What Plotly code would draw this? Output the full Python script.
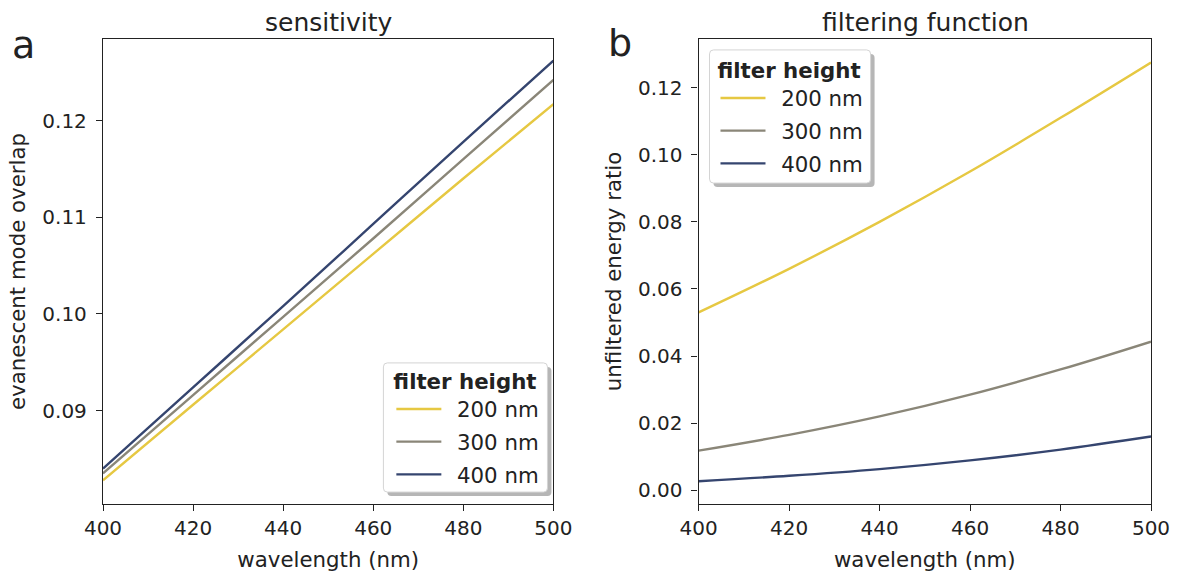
import plotly.graph_objects as go

wavelength = [400, 420, 440, 460, 480, 500]
heights = ["200 nm", "300 nm", "400 nm"]
colors = ["#e6c842", "#8a8678", "#35456f"]

# panel a: evanescent mode overlap
overlap_200 = [0.0828, 0.0906, 0.0984, 0.1062, 0.1140, 0.1217]
overlap_300 = [0.0835, 0.0916, 0.0997, 0.1078, 0.1160, 0.1242]
overlap_400 = [0.0840, 0.0924, 0.1008, 0.1093, 0.1178, 0.1262]

# panel b: unfiltered energy ratio
ratio_200 = [0.0530, 0.0660, 0.0800, 0.0950, 0.1110, 0.1275]
ratio_300 = [0.0118, 0.0165, 0.0220, 0.0285, 0.0360, 0.0443]
ratio_400 = [0.0027, 0.0043, 0.0063, 0.0089, 0.0121, 0.0160]

FONT = "DejaVu Sans"
TICK = 20
LAB = 21.3

L, R, T, B = 103, 1157, 39, 507  # outer plotting box in pixels


def px_x(p):
    return (p - L) / (R - L)


def px_y(p):
    return (B - p) / (B - T)


def rounded_box(x0, y0, x1, y1, r=4):
    """SVG path (paper coords) for a rounded rectangle given pixel corners."""
    X0, X1 = px_x(x0), px_x(x1)
    Y0, Y1 = px_y(y0), px_y(y1)  # Y0 top, Y1 bottom
    rx, ry = r / (R - L), r / (B - T)
    return (f"M {X0 + rx},{Y0} L {X1 - rx},{Y0} Q {X1},{Y0} {X1},{Y0 - ry} "
            f"L {X1},{Y1 + ry} Q {X1},{Y1} {X1 - rx},{Y1} "
            f"L {X0 + rx},{Y1} Q {X0},{Y1} {X0},{Y1 + ry} "
            f"L {X0},{Y0 - ry} Q {X0},{Y0} {X0 + rx},{Y0} Z")


fig = go.Figure()

for i, (name, ys, c) in enumerate(zip(heights, [overlap_200, overlap_300, overlap_400], colors)):
    fig.add_trace(go.Scatter(x=wavelength, y=ys, mode="lines", name="\u2002" + name,
                             legendgroup=f"a{i}",
                             line=dict(color=c, width=2.4, shape="spline"),
                             xaxis="x", yaxis="y", legend="legend"))
for i, (name, ys, c) in enumerate(zip(heights, [ratio_200, ratio_300, ratio_400], colors)):
    fig.add_trace(go.Scatter(x=wavelength, y=ys, mode="lines", name="\u2002" + name,
                             legendgroup=f"b{i}",
                             line=dict(color=c, width=2.4, shape="spline"),
                             xaxis="x2", yaxis="y2", legend="legend2"))

axis_common = dict(showline=True, linecolor="#222", linewidth=1.3, mirror=True,
                   ticks="outside", ticklen=6, tickcolor="#222", showgrid=False,
                   zeroline=False, tickfont=dict(family=FONT, size=TICK, color="#222"))

legend_common = dict(bgcolor="rgba(0,0,0,0)", borderwidth=0,
                     title=dict(text="<b>filter height</b>", font=dict(family=FONT, size=21.3)),
                     font=dict(family=FONT, size=LAB), itemwidth=45, tracegroupgap=2,
                     xanchor="left", yanchor="top")

fig.update_layout(
    width=1182, height=579,
    margin=dict(l=L, r=1182 - R, t=T, b=579 - B),
    plot_bgcolor="white", paper_bgcolor="white",
    font=dict(family=FONT, color="#222"),
    xaxis=dict(domain=[0, px_x(556)], range=[400, 500], tickvals=[400, 420, 440, 460, 480, 500],
               title=dict(text="wavelength (nm)", font=dict(size=LAB), standoff=12), **axis_common),
    yaxis=dict(range=[0.08034, 0.12843], tickvals=[0.09, 0.10, 0.11, 0.12], tickformat=".2f",
               ticklabelstandoff=5,
               title=dict(text="evanescent mode overlap", font=dict(size=LAB), standoff=10), **axis_common),
    xaxis2=dict(domain=[px_x(702), 1], range=[400, 500], tickvals=[400, 420, 440, 460, 480, 500],
                anchor="y2",
                title=dict(text="wavelength (nm)", font=dict(size=LAB), standoff=12), **axis_common),
    yaxis2=dict(range=[-0.0041, 0.1345], tickvals=[0, 0.02, 0.04, 0.06, 0.08, 0.10, 0.12],
                tickformat=".2f", anchor="x2", ticklabelstandoff=5,
                title=dict(text="unfiltered energy ratio", font=dict(size=LAB), standoff=10), **axis_common),
    legend=dict(x=px_x(393), y=px_y(363), **legend_common),
    legend2=dict(x=px_x(719), y=px_y(50), **legend_common),
)

# legend frames with drop shadows (matplotlib fancybox look)
for x0, y0, x1, y1 in [(385, 365, 550, 495), (713, 50, 875, 184)]:
    fig.add_shape(type="path", xref="paper", yref="paper", layer="above",
                  path=rounded_box(x0 + 4, y0 + 4, x1 + 4, y1 + 4),
                  line=dict(width=0), fillcolor="rgba(110,110,110,0.5)")
    fig.add_shape(type="path", xref="paper", yref="paper", layer="above",
                  path=rounded_box(x0, y0, x1, y1),
                  line=dict(width=1, color="#d4d4d4"), fillcolor="white")

fig.add_annotation(text="sensitivity", x=px_x(330), y=1, xref="paper", yref="paper",
                   xanchor="center", yanchor="bottom", yshift=0, showarrow=False,
                   font=dict(family=FONT, size=25))
fig.add_annotation(text="filtering function", x=px_x(930), y=1, xref="paper", yref="paper",
                   xanchor="center", yanchor="bottom", yshift=0, showarrow=False,
                   font=dict(family=FONT, size=25))
fig.add_annotation(text="a", x=px_x(9), y=px_y(45), xref="paper", yref="paper",
                   xanchor="left", yanchor="middle", showarrow=False, font=dict(family=FONT, size=38))
fig.add_annotation(text="b", x=px_x(609), y=px_y(43), xref="paper", yref="paper",
                   xanchor="left", yanchor="middle", showarrow=False, font=dict(family=FONT, size=38))

fig.write_html("out.html")
